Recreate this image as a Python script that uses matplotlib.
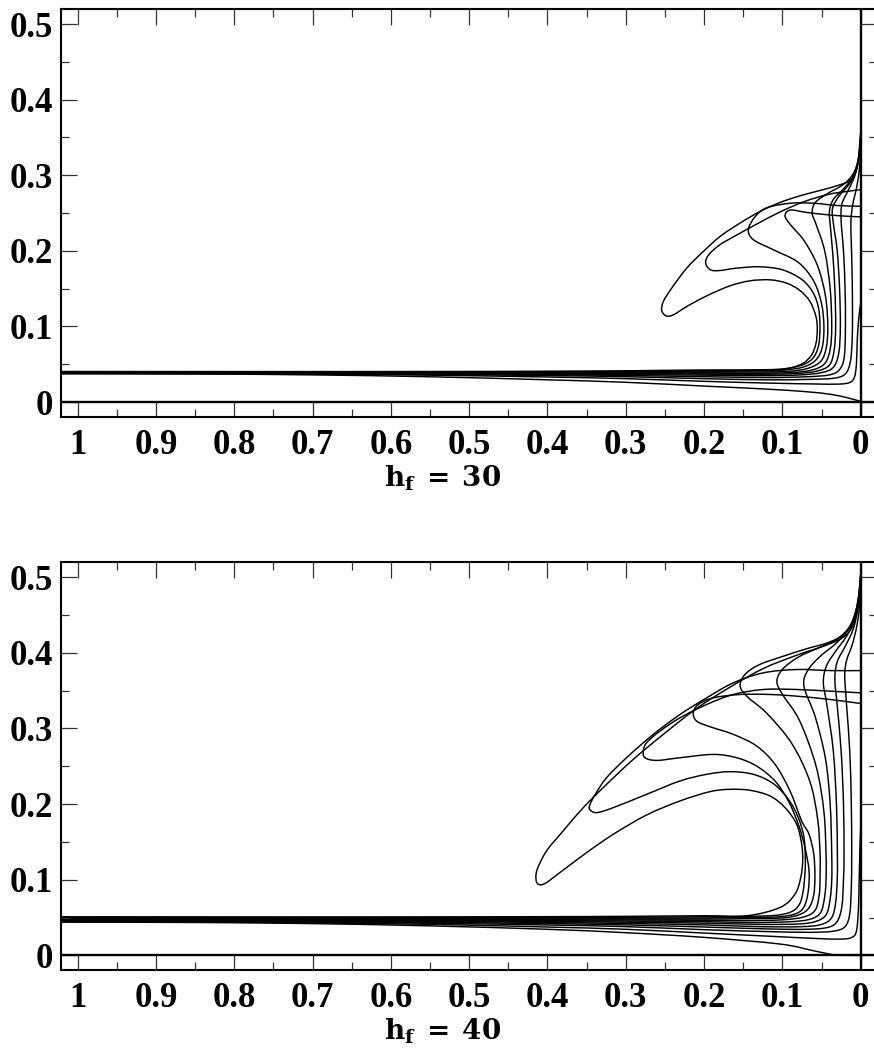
import numpy as np
import matplotlib
matplotlib.use("Agg")
import matplotlib.pyplot as plt
from matplotlib.path import Path
from matplotlib.patches import PathPatch
from matplotlib.ticker import MultipleLocator, FuncFormatter

plt.rcParams['font.family'] = ['Liberation Serif', 'DejaVu Serif']
plt.rcParams['mathtext.fontset'] = 'dejavuserif'

# shared x positions of the flat far-field part of every profile
BX = [1.03, 0.85, 0.7, 0.55, 0.4, 0.3, 0.2]

# ---------------- h_f = 30 (top panel) ----------------
T0 = list(zip(BX, [0.0375, 0.0372, 0.036, 0.0335, 0.0295, 0.0262, 0.0212])) + [
    (0.12, 0.0172), (0.07, 0.0138), (0.04, 0.0105), (0.02, 0.0065), (0.0, 0.001)]
T1 = list(zip(BX, [0.0378, 0.0376, 0.037, 0.0356, 0.0332, 0.031, 0.0275])) + [
    (0.12, 0.0252), (0.06, 0.024), (0.028, 0.0238), (0.014, 0.026), (0.008, 0.033),
    (0.0055, 0.05), (0.0045, 0.08), (0.003, 0.105), (0.0012, 0.122), (0.0, 0.13)]
T2 = list(zip(BX, [0.0381, 0.038, 0.0376, 0.0366, 0.0351, 0.0336, 0.031])) + [
    (0.12, 0.0295), (0.07, 0.03), (0.035, 0.0315), (0.02, 0.037), (0.0135, 0.052),
    (0.011, 0.08), (0.0105, 0.12), (0.011, 0.17), (0.012, 0.21), (0.0125, 0.24),
    (0.01, 0.262), (0.005, 0.285), (0.0015, 0.31), (0.0, 0.335)]
T3 = list(zip(BX, [0.0384, 0.0383, 0.038, 0.0373, 0.0362, 0.0352, 0.0336])) + [
    (0.12, 0.0325), (0.07, 0.0335), (0.04, 0.036), (0.027, 0.043), (0.021, 0.06),
    (0.0195, 0.1), (0.02, 0.15), (0.022, 0.2), (0.025, 0.24), (0.024, 0.262),
    (0.016, 0.28), (0.008, 0.298), (0.003, 0.32), (0.0, 0.345)]
T4 = list(zip(BX, [0.0387, 0.0386, 0.0384, 0.0379, 0.0371, 0.0365, 0.0356])) + [
    (0.13, 0.035), (0.08, 0.0358), (0.05, 0.039), (0.035, 0.046), (0.028, 0.065),
    (0.026, 0.1), (0.027, 0.15), (0.03, 0.2), (0.035, 0.237), (0.036, 0.256),
    (0.028, 0.272), (0.015, 0.288), (0.006, 0.305), (0.0015, 0.328), (0.0, 0.348)]
T5 = list(zip(BX, [0.039, 0.0389, 0.0388, 0.0384, 0.0379, 0.0376, 0.037])) + [
    (0.13, 0.0368), (0.085, 0.0376), (0.056, 0.041), (0.04, 0.049), (0.034, 0.068),
    (0.032, 0.1), (0.033, 0.15), (0.036, 0.2), (0.039, 0.235), (0.04, 0.252),
    (0.035, 0.268), (0.022, 0.282), (0.01, 0.298), (0.003, 0.322), (0.0, 0.35)]
T6 = list(zip(BX, [0.0393, 0.0392, 0.0391, 0.0389, 0.0386, 0.0385, 0.0383])) + [
    (0.14, 0.0382), (0.09, 0.039), (0.062, 0.0425), (0.046, 0.051), (0.039, 0.07),
    (0.037, 0.1), (0.039, 0.15), (0.046, 0.2), (0.057, 0.235), (0.062, 0.25),
    (0.058, 0.264), (0.042, 0.276), (0.022, 0.288), (0.009, 0.303), (0.002, 0.325),
    (0.0, 0.352)]
T7 = list(zip(BX, [0.0396, 0.0395, 0.0394, 0.0393, 0.0392, 0.0393, 0.0396])) + [
    (0.14, 0.0398), (0.095, 0.0405), (0.068, 0.0445), (0.051, 0.054), (0.044, 0.072),
    (0.042, 0.1), (0.045, 0.14), (0.055, 0.18), (0.072, 0.213), (0.09, 0.235),
    (0.0967, 0.2465), (0.09, 0.254), (0.07, 0.251), (0.045, 0.248), (0.02, 0.246),
    (0.0, 0.245)]
T8 = list(zip(BX, [0.0399, 0.0398, 0.0398, 0.0397, 0.0398, 0.0401, 0.0407])) + [
    (0.145, 0.0412), (0.1, 0.0423), (0.073, 0.0465), (0.057, 0.056), (0.049, 0.073),
    (0.047, 0.1), (0.05, 0.13), (0.06, 0.16), (0.08, 0.185), (0.1116, 0.2015),
    (0.137, 0.2147), (0.1435, 0.228), (0.135, 0.245), (0.12, 0.257), (0.09, 0.263),
    (0.06, 0.263), (0.03, 0.26), (0.0, 0.259)]
T9 = list(zip(BX, [0.0402, 0.0401, 0.0401, 0.0401, 0.0403, 0.0407, 0.0415])) + [
    (0.15, 0.0425), (0.105, 0.0435), (0.078, 0.048), (0.062, 0.057), (0.054, 0.074),
    (0.052, 0.1), (0.054, 0.125), (0.061, 0.145), (0.075, 0.162), (0.1, 0.175),
    (0.13, 0.179), (0.16, 0.177), (0.18, 0.174), (0.192, 0.175), (0.198, 0.184),
    (0.194, 0.195), (0.18, 0.208), (0.16, 0.22), (0.13, 0.237), (0.1, 0.253),
    (0.07, 0.266), (0.04, 0.275), (0.015, 0.279), (0.0, 0.281)]
T10 = list(zip(BX, [0.0405, 0.0404, 0.0404, 0.0405, 0.0408, 0.0414, 0.0425])) + [
    (0.112, 0.042), (0.0903, 0.045), (0.0733, 0.0516), (0.0626, 0.0626), (0.0571, 0.0779),
    (0.0555, 0.0956), (0.0571, 0.113), (0.0648, 0.1331), (0.0776, 0.1476), (0.0946, 0.1573),
    (0.1158, 0.1617), (0.1414, 0.1604), (0.1669, 0.1538), (0.1967, 0.1405), (0.2222, 0.1264),
    (0.2393, 0.1154), (0.2486, 0.1141), (0.2541, 0.1212), (0.252, 0.1331), (0.2414, 0.1507),
    (0.2222, 0.1772), (0.201, 0.1992), (0.1797, 0.219), (0.1542, 0.2367), (0.1286, 0.2521),
    (0.1031, 0.264), (0.0776, 0.2728), (0.052, 0.2799), (0.0265, 0.2874), (0.0116, 0.2949),
    (0.0044, 0.3116), (0.0019, 0.3337), (0.0002, 0.3558)]
top_curves = [T0, T1, T2, T3, T4, T5, T6, T7, T8, T9, T10]

# ---------------- h_f = 40 (bottom panel) ----------------
B0 = list(zip(BX, [0.044, 0.0435, 0.042, 0.039, 0.0345, 0.030, 0.0238])) + [
    (0.103, 0.015), (0.0606, 0.0062), (0.04, 0.0018), (0.03, 0.0003), (0.015, 0.0), (0.0, 0.0)]
B1 = list(zip(BX, [0.0445, 0.044, 0.043, 0.041, 0.0375, 0.0345, 0.0295])) + [
    (0.12, 0.0255), (0.06, 0.0225), (0.028, 0.0215), (0.012, 0.0235), (0.0055, 0.032),
    (0.003, 0.06), (0.002, 0.1), (0.001, 0.14), (0.0, 0.17)]
B2 = list(zip(BX, [0.0448, 0.0445, 0.0438, 0.0425, 0.0402, 0.038, 0.034])) + [
    (0.12, 0.0315), (0.065, 0.0305), (0.035, 0.032), (0.02, 0.038), (0.014, 0.055),
    (0.012, 0.09), (0.0115, 0.134), (0.012, 0.2), (0.014, 0.27), (0.018, 0.33),
    (0.0204, 0.37), (0.018, 0.39), (0.011, 0.41), (0.005, 0.435), (0.0015, 0.46), (0.0, 0.48)]
B3 = list(zip(BX, [0.0455, 0.0452, 0.0447, 0.0437, 0.042, 0.0403, 0.0375])) + [
    (0.12, 0.035), (0.07, 0.0345), (0.042, 0.037), (0.03, 0.045), (0.024, 0.065),
    (0.022, 0.1), (0.0213, 0.134), (0.022, 0.2), (0.025, 0.27), (0.03, 0.33),
    (0.033, 0.365), (0.03, 0.388), (0.02, 0.408), (0.01, 0.43), (0.004, 0.455),
    (0.001, 0.48), (0.0, 0.49)]
B4 = list(zip(BX, [0.0462, 0.046, 0.0456, 0.0448, 0.0435, 0.0422, 0.0403])) + [
    (0.13, 0.038), (0.075, 0.038), (0.05, 0.041), (0.037, 0.05), (0.032, 0.07),
    (0.030, 0.1), (0.0298, 0.134), (0.031, 0.2), (0.035, 0.27), (0.043, 0.33),
    (0.0477, 0.36), (0.044, 0.382), (0.032, 0.402), (0.018, 0.422), (0.008, 0.445),
    (0.002, 0.475), (0.0, 0.495)]
B5 = list(zip(BX, [0.0469, 0.0467, 0.0464, 0.0458, 0.0448, 0.0439, 0.0426])) + [
    (0.13, 0.041), (0.08, 0.0415), (0.057, 0.045), (0.044, 0.054), (0.039, 0.075),
    (0.037, 0.1), (0.037, 0.134), (0.039, 0.2), (0.045, 0.26), (0.058, 0.315),
    (0.0724, 0.355), (0.068, 0.376), (0.052, 0.395), (0.032, 0.412), (0.015, 0.432),
    (0.005, 0.46), (0.001, 0.485), (0.0, 0.5)]
B6 = list(zip(BX, [0.0476, 0.0474, 0.0472, 0.0467, 0.046, 0.0454, 0.0446])) + [
    (0.14, 0.0435), (0.09, 0.0445), (0.064, 0.048), (0.051, 0.057), (0.046, 0.078),
    (0.0443, 0.1), (0.0443, 0.134), (0.047, 0.19), (0.057, 0.25), (0.078, 0.31),
    (0.1, 0.345), (0.107, 0.362), (0.1, 0.378), (0.08, 0.394), (0.055, 0.406),
    (0.03, 0.418), (0.012, 0.438), (0.004, 0.465), (0.0, 0.502)]
B7 = list(zip(BX, [0.0483, 0.0481, 0.0479, 0.0476, 0.0471, 0.0468, 0.0464])) + [
    (0.15, 0.046), (0.1, 0.047), (0.072, 0.051), (0.058, 0.06), (0.053, 0.08),
    (0.052, 0.1), (0.0519, 0.134), (0.055, 0.18), (0.065, 0.23), (0.088, 0.28),
    (0.12, 0.32), (0.145, 0.342), (0.154, 0.356), (0.148, 0.371), (0.13, 0.384),
    (0.1, 0.395), (0.07, 0.405), (0.04, 0.414), (0.02, 0.426), (0.008, 0.448),
    (0.002, 0.48), (0.0, 0.505)]
B8 = list(zip(BX, [0.049, 0.0488, 0.0487, 0.0485, 0.0482, 0.048, 0.048])) + [
    (0.15, 0.0485), (0.1, 0.0495), (0.078, 0.054), (0.066, 0.063), (0.06, 0.08),
    (0.0585, 0.105), (0.06, 0.134), (0.066, 0.16), (0.0754, 0.1777), (0.0903, 0.2173),
    (0.1094, 0.2525), (0.1329, 0.2767), (0.1627, 0.2921), (0.1925, 0.3022), (0.2095, 0.3096),
    (0.2138, 0.3206), (0.2074, 0.3316), (0.1882, 0.3404), (0.1541, 0.3448), (0.1158, 0.3448),
    (0.0818, 0.3426), (0.0392, 0.3382), (0.0, 0.3329)]
B9 = list(zip(BX, [0.0497, 0.0495, 0.0494, 0.0493, 0.0492, 0.0492, 0.0495])) + [
    (0.15, 0.05), (0.105, 0.051), (0.082, 0.0555), (0.072, 0.065), (0.067, 0.085),
    (0.066, 0.1117), (0.0712, 0.1425), (0.0797, 0.1733), (0.0924, 0.2041), (0.1094, 0.2304),
    (0.1329, 0.2502), (0.1584, 0.2612), (0.1882, 0.2656), (0.2308, 0.2612), (0.2606, 0.2577),
    (0.2755, 0.2612), (0.2776, 0.27), (0.2734, 0.2811), (0.2563, 0.2965), (0.2308, 0.314),
    (0.1967, 0.3316), (0.1627, 0.3448), (0.1244, 0.3514), (0.0818, 0.3514), (0.0392, 0.3492),
    (0.0, 0.347)]
B10 = list(zip(BX, [0.0504, 0.0502, 0.0501, 0.0501, 0.0502, 0.0504, 0.051])) + [
    (0.15, 0.0515), (0.108, 0.053), (0.088, 0.058), (0.078, 0.068), (0.0735, 0.085),
    (0.0715, 0.105), (0.0707, 0.1249), (0.0724, 0.1557), (0.0797, 0.1821), (0.0924, 0.2063),
    (0.1116, 0.227), (0.1371, 0.2393), (0.1669, 0.2428), (0.1967, 0.2393), (0.2308, 0.2305),
    (0.2734, 0.2129), (0.3159, 0.1953), (0.3372, 0.1887), (0.3462, 0.193), (0.3456, 0.1997),
    (0.339, 0.2129), (0.3245, 0.2349), (0.299, 0.2613), (0.2649, 0.2921), (0.2308, 0.3184),
    (0.1967, 0.3404), (0.1627, 0.3602), (0.1244, 0.3734), (0.0818, 0.3778), (0.0392, 0.3764),
    (0.0, 0.3764)]
B11 = list(zip(BX, [0.051, 0.0509, 0.0508, 0.0509, 0.0512, 0.0516, 0.0524])) + [
    (0.1456, 0.0524), (0.1031, 0.0633), (0.0839, 0.081), (0.0766, 0.1029), (0.0741, 0.1249),
    (0.0754, 0.147), (0.0818, 0.1733), (0.0967, 0.1953), (0.1159, 0.2107), (0.1414, 0.2182),
    (0.1669, 0.2195), (0.1925, 0.2164), (0.2308, 0.2041), (0.2734, 0.1856), (0.3159, 0.1601),
    (0.35, 0.1359), (0.3841, 0.1095), (0.4033, 0.095), (0.4118, 0.0941), (0.4147, 0.1008),
    (0.413, 0.114), (0.4012, 0.1381), (0.38, 0.1645), (0.3543, 0.1953), (0.3245, 0.2261),
    (0.2904, 0.2591), (0.2521, 0.2921), (0.2095, 0.3264), (0.1669, 0.3545), (0.1244, 0.3791),
    (0.0818, 0.3967), (0.0477, 0.4086), (0.0222, 0.4205), (0.0094, 0.4372), (0.003, 0.468),
    (0.0001, 0.5032)]
bottom_curves = [B0, B1, B2, B3, B4, B5, B6, B7, B8, B9, B10, B11]

panel_labels = [r'$\mathbf{h_f}\;\mathbf{=}\;\mathbf{30}$', r'$\mathbf{h_f}\;\mathbf{=}\;\mathbf{40}$']


def smooth_path(pts):
    # Catmull-Rom through the read points, drawn as cubic Bezier segments
    p = np.asarray(pts, float)
    ext = np.vstack([p[0], p, p[-1]])
    verts = [p[0]]
    codes = [Path.MOVETO]
    for i in range(1, len(ext) - 2):
        p0, p1, p2, p3 = ext[i - 1], ext[i], ext[i + 1], ext[i + 2]
        verts += [p1 + (p2 - p0) / 6.0, p2 - (p3 - p1) / 6.0, p2]
        codes += [Path.CURVE4] * 3
    return Path(verts, codes)


fig = plt.figure(figsize=(8.74, 10.5), dpi=100)
left = 61 / 874
width = 816 / 874
ax_top = fig.add_axes([left, 1 - 416.7 / 1050, width, 407.4 / 1050])
ax_bot = fig.add_axes([left, 1 - 970.0 / 1050, width, 407.7 / 1050])

fmt = FuncFormatter(lambda v, pos: ('%g' % round(v, 2)))

for ax, curves, label, lab_y in [(ax_top, top_curves, panel_labels[0], 486.7),
                                  (ax_bot, bottom_curves, panel_labels[1], 1040.0)]:
    for c in curves:
        ax.add_patch(PathPatch(smooth_path(c), fill=False, edgecolor='black', lw=1.05))
    ax.axvline(0, color='black', lw=1.7)
    ax.axhline(0, color='black', lw=1.7)
    ax.set_xlim(1.0213, -0.0208)
    ax.set_ylim(-0.0193, 0.5195)
    ax.xaxis.set_major_locator(MultipleLocator(0.1))
    ax.xaxis.set_minor_locator(MultipleLocator(0.05))
    ax.yaxis.set_major_locator(MultipleLocator(0.1))
    ax.yaxis.set_minor_locator(MultipleLocator(0.05))
    ax.xaxis.set_major_formatter(fmt)
    ax.yaxis.set_major_formatter(fmt)
    ax.tick_params(which='both', direction='in', top=True, right=True, width=0.9, color='#333333')
    ax.tick_params(which='major', length=11.3)
    ax.tick_params(which='minor', length=5.6)
    ax.tick_params(axis='x', which='major', pad=8.5)
    ax.tick_params(axis='y', which='major', pad=5.5)
    for t in ax.get_xticklabels() + ax.get_yticklabels():
        t.set_fontsize(25)
        t.set_fontweight('bold')
    for s in ax.spines.values():
        s.set_linewidth(1.5)
    fig.text(442.7 / 874, 1 - lab_y / 1050, label, ha='center', va='baseline', fontsize=20)

fig.savefig('out.png', dpi=100)
